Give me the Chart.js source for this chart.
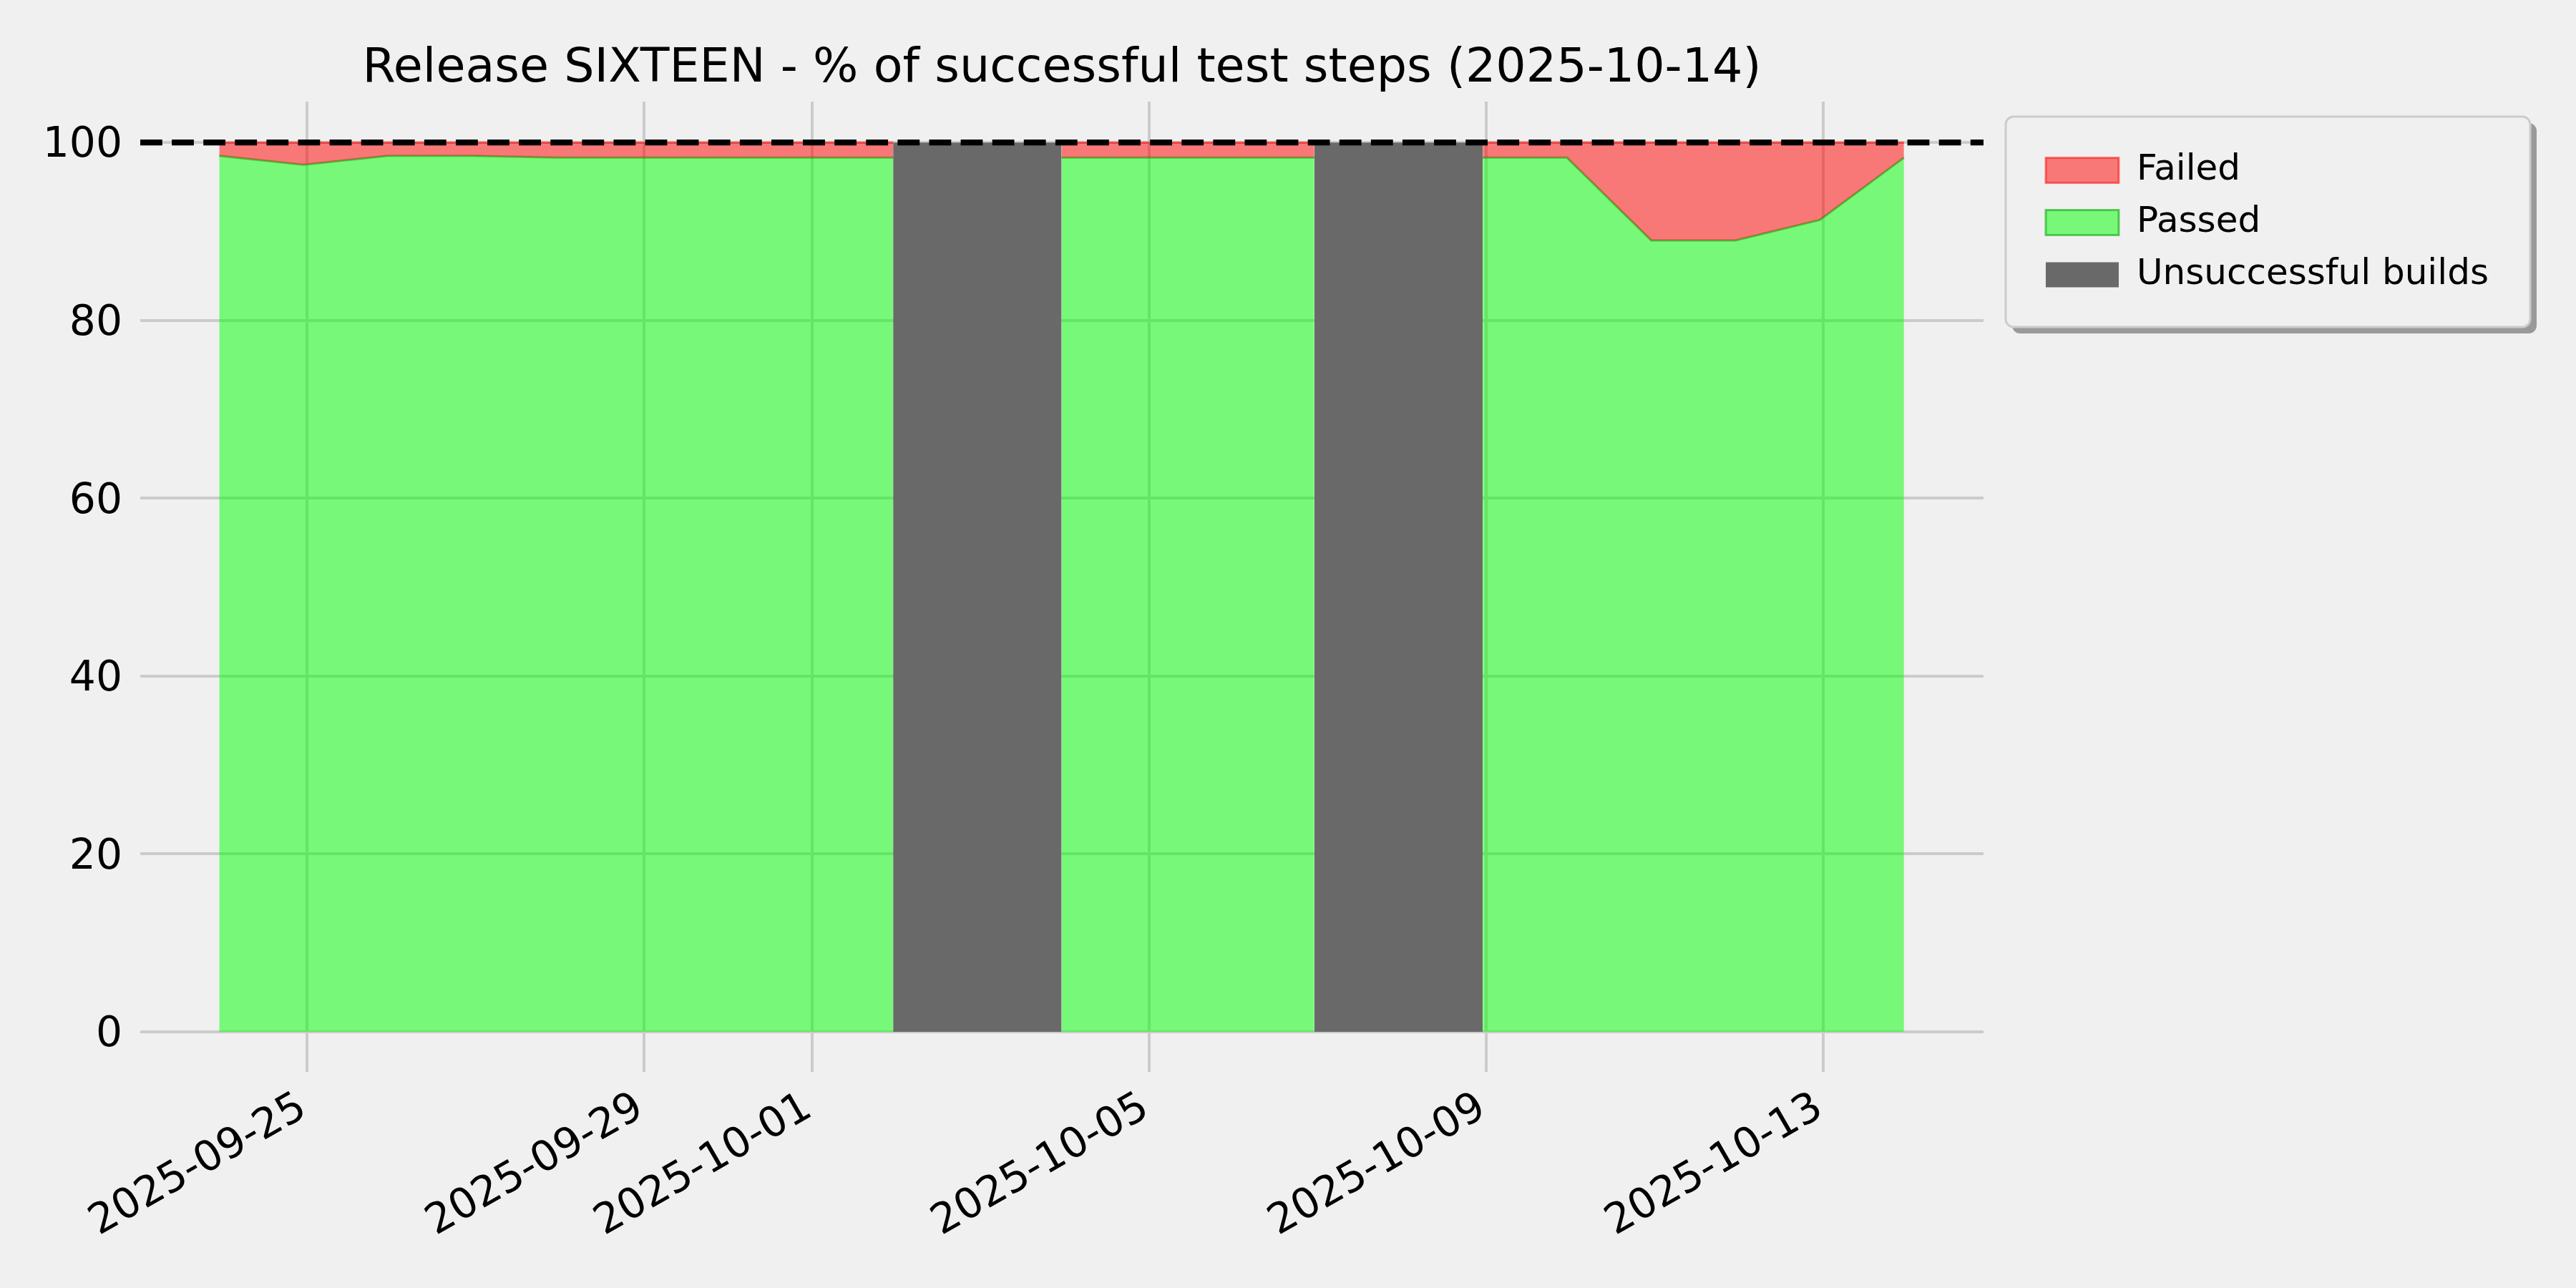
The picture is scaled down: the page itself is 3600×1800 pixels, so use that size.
<!DOCTYPE html>
<html>
<head>
<meta charset="utf-8">
<script src="https://cdn.jsdelivr.net/npm/chart.js@4.4.1/dist/chart.umd.min.js"></script>
<style>
  html, body { margin: 0; padding: 0; background: #f0f0f0; }
  canvas { display: block; }
</style>
</head>
<body>
<canvas id="c" width="3600" height="1800"></canvas>
<script>
// ---------------- data ----------------
const TITLE = 'Release SIXTEEN - % of successful test steps (2025-10-14)';
const DATES = [
  '2025-09-23T23:00Z', '2025-09-24T23:00Z', '2025-09-25T23:00Z', '2025-09-26T23:00Z',
  '2025-09-27T23:00Z', '2025-09-28T23:00Z', '2025-09-29T23:00Z', '2025-09-30T23:00Z',
  '2025-10-01T23:00Z', '2025-10-02T23:00Z', '2025-10-03T23:00Z', '2025-10-04T23:00Z',
  '2025-10-05T23:00Z', '2025-10-06T23:00Z', '2025-10-07T23:00Z', '2025-10-08T23:00Z',
  '2025-10-09T23:00Z', '2025-10-10T23:00Z', '2025-10-11T23:00Z', '2025-10-12T23:00Z',
  '2025-10-13T23:00Z'
];
const PASSED = [98.5, 97.5, 98.5, 98.5, 98.3, 98.3, 98.3, 98.3, 98.3, null, 98.3,
                98.3, 98.3, 98.3, null, 98.3, 98.3, 89.0, 89.0, 91.3, 98.3];
const FAILED = [1.5, 2.5, 1.5, 1.5, 1.7, 1.7, 1.7, 1.7, 1.7, null, 1.7,
                1.7, 1.7, 1.7, null, 1.7, 1.7, 11.0, 11.0, 8.7, 1.7];
const UNSUCCESSFUL = [null, null, null, null, null, null, null, null, 100, 100, 100,
                      null, null, 100, 100, 100, null, null, null, null, null];
const X_TICKS = ['2025-09-25', '2025-09-29', '2025-10-01', '2025-10-05', '2025-10-09', '2025-10-13'];
const Y_TICKS = [0, 20, 40, 60, 80, 100];
const TARGET = 100;
const X_LIMITS = ['2025-09-23T00:30Z', '2025-10-14T21:40Z'];
const Y_LIMITS = [-4.5, 104.6];

// ---------------- helpers ----------------
const DAY = 86400000;
const toDay = s => Date.parse(s) / DAY;
const xs = DATES.map(toDay);
const pts = vals => vals.map((v, i) => ({ x: xs[i], y: v }));
const failedTop = PASSED.map((p, i) => (p == null || FAILED[i] == null) ? null : p + FAILED[i]);

const FONT = 'DejaVu Sans';

const refLine = {
  id: 'refLine',
  afterDatasetsDraw(chart) {
    const { ctx, chartArea: a, scales: { y } } = chart;
    const py = y.getPixelForValue(TARGET);
    ctx.save();
    ctx.strokeStyle = '#000000';
    ctx.lineWidth = 8.3;
    ctx.lineCap = 'butt';
    ctx.setLineDash([30.8, 13.3]);
    ctx.beginPath();
    ctx.moveTo(a.left, py);
    ctx.lineTo(a.right, py);
    ctx.stroke();
    ctx.restore();
  }
};

const LEGEND_POS = { left: 2836, top: 190 };
const LEGEND_FRAME = { x: 2803, y: 163, w: 733, h: 294, r: 11, shadow: 9 };

function roundRect(ctx, x, y, w, h, r) {
  ctx.beginPath();
  ctx.moveTo(x + r, y);
  ctx.lineTo(x + w - r, y);
  ctx.arcTo(x + w, y, x + w, y + r, r);
  ctx.lineTo(x + w, y + h - r);
  ctx.arcTo(x + w, y + h, x + w - r, y + h, r);
  ctx.lineTo(x + r, y + h);
  ctx.arcTo(x, y + h, x, y + h - r, r);
  ctx.lineTo(x, y + r);
  ctx.arcTo(x, y, x + r, y, r);
  ctx.closePath();
}

const legendFrame = {
  id: 'legendFrame',
  afterLayout(chart) {
    const L = chart.legend;
    if (!L) return;
    const w = L.width;
    L.left = LEGEND_POS.left;
    L.top = LEGEND_POS.top;
    L.right = L.left + w;
    L.bottom = L.top + 1000;
    L.height = 1000;
  },
  beforeDraw(chart) {
    const ctx = chart.ctx;
    const f = LEGEND_FRAME;
    ctx.save();
    ctx.fillStyle = '#9a9a9a';
    roundRect(ctx, f.x + f.shadow, f.y + f.shadow, f.w, f.h, f.r);
    ctx.fill();
    ctx.fillStyle = '#f0f0f0';
    roundRect(ctx, f.x, f.y, f.w, f.h, f.r);
    ctx.fill();
    ctx.strokeStyle = '#cccccc';
    ctx.lineWidth = 3;
    ctx.stroke();
    ctx.restore();
  }
};

Chart.defaults.font.family = FONT;
Chart.defaults.color = '#000000';

new Chart(document.getElementById('c'), {
  type: 'line',
  data: {
    datasets: [
      {
        label: 'Failed',
        data: pts(failedTop),
        backgroundColor: 'rgba(255,0,0,0.5)',
        borderColor: 'rgba(255,0,0,0.5)',
        borderWidth: 3,
        fill: 1,
        pointRadius: 0,
        tension: 0,
        spanGaps: false
      },
      {
        label: 'Passed',
        data: pts(PASSED),
        backgroundColor: 'rgba(0,255,0,0.5)',
        borderColor: 'rgba(0,160,0,0.55)',
        borderWidth: 3,
        fill: 'origin',
        pointRadius: 0,
        tension: 0,
        spanGaps: false
      },
      {
        label: 'Unsuccessful builds',
        data: pts(UNSUCCESSFUL),
        backgroundColor: '#696969',
        borderColor: '#696969',
        borderWidth: 0,
        fill: 'origin',
        pointRadius: 0,
        tension: 0,
        spanGaps: false
      }
    ]
  },
  options: {
    responsive: false,
    devicePixelRatio: 1,
    animation: false,
    events: [],
    layout: { padding: { left: 0, top: 0, right: 828, bottom: 0 } },
    plugins: {
      title: {
        display: true,
        text: TITLE,
        fullSize: false,
        color: '#000000',
        font: { family: FONT, size: 66.7, weight: 'normal', lineHeight: 1.2 },
        padding: { top: 56.6, bottom: 5.4 }
      },
      legend: {
        display: true,
        position: 'chartArea',
        align: 'start',
        labels: {
          boxWidth: 102,
          boxHeight: 35,
          padding: 23,
          color: '#000000',
          font: { family: FONT, size: 50 }
        }
      },
      tooltip: { enabled: false }
    },
    scales: {
      x: {
        type: 'linear',
        min: toDay(X_LIMITS[0]),
        max: toDay(X_LIMITS[1]),
        afterBuildTicks: s => { s.ticks = X_TICKS.map(t => ({ value: toDay(t + 'T00:00Z') })); },
        afterFit: s => { s.height = 302; },
        grid: { color: '#cbcbcb', lineWidth: 4, drawTicks: false },
        border: { display: false },
        ticks: {
          autoSkip: false,
          minRotation: 30,
          maxRotation: 30,
          padding: 16,
          labelOffset: -5,
          color: '#000000',
          font: { family: FONT, size: 58.3 },
          callback: v => new Date(v * DAY).toISOString().slice(0, 10)
        }
      },
      y: {
        type: 'linear',
        min: Y_LIMITS[0],
        max: Y_LIMITS[1],
        afterBuildTicks: s => { s.ticks = Y_TICKS.map(v => ({ value: v })); },
        afterFit: s => { s.width = 196; },
        grid: { color: '#cbcbcb', lineWidth: 4, drawTicks: false },
        border: { display: false },
        ticks: {
          padding: 25,
          labelOffset: 5,
          color: '#000000',
          font: { family: FONT, size: 58.3 },
          callback: v => String(v)
        }
      }
    }
  },
  plugins: [refLine, legendFrame]
});
</script>
</body>
</html>
